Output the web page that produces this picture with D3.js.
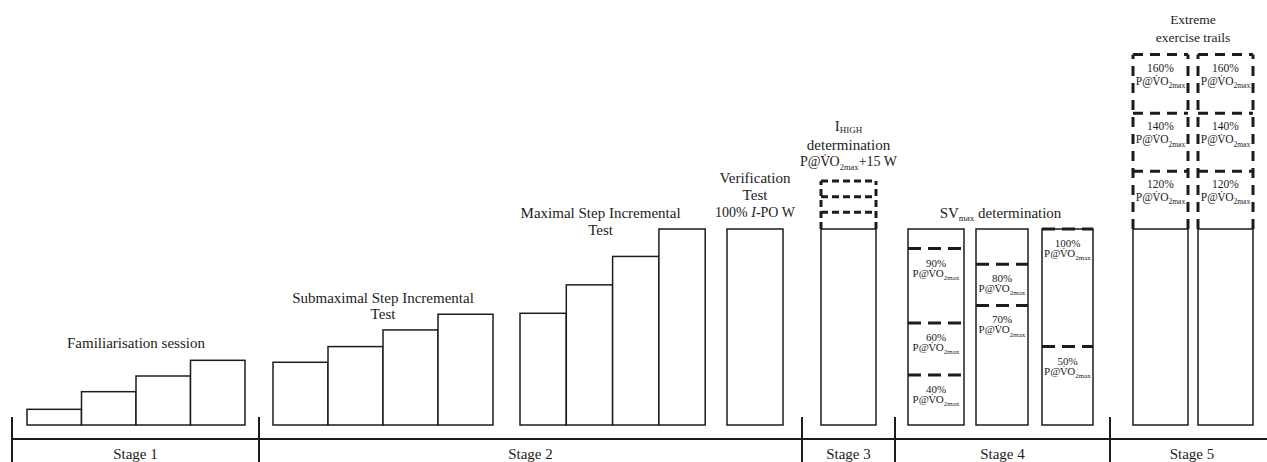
<!DOCTYPE html>
<html><head><meta charset="utf-8">
<script src="https://cdn.jsdelivr.net/npm/d3@7"></script>
<style>
html,body{margin:0;padding:0;background:#fff;}
svg{display:block;font-family:"Liberation Serif","Times New Roman",serif;}
</style></head><body>
<svg id="chart" width="1267" height="462"></svg>
<script>
// ---------- DATA (schematic intensity units: 100 = peak / verification level) ----------
const stages = ["Stage 1", "Stage 2", "Stage 3", "Stage 4", "Stage 5"];
const stageBounds = [0, 24.7, 79, 88.3, 109.8, 126.2];      // timeline units

const familiarisation = [8, 17, 25, 33];
const submaximal = [32, 40, 48.5, 56.5];
const maximal = [57, 71.5, 86, 100];
const verification = [100];
const ihighBase = [100];
const ihighSteps = [108.5, 116.5, 124.5];
const svmaxBase = [100, 100, 100];
const svmaxSteps = [[90, 52, 25.5], [82, 61], [100, 40]];
const svmaxLabels = [["90%", "60%", "40%"], ["80%", "70%"], ["100%", "50%"]];
const extremeBase = [100, 100];
const extremeSteps = [129.5, 159, 189];
const extremeLabels = ["120%", "140%", "160%"];

// ---------- LAYOUT (timeline units) ----------
const famStart = 1.5, famW = 5.45;
const subStart = 26.1, subW = 5.5;
const maxStart = 50.8, maxW = 4.63;
const verStart = 71.5, verW = 5.6;
const ihStart = 80.9, ihW = 5.5;
const svStarts = [89.6, 96.4, 103], svWs = [5.6, 5.2, 5.1];
const exStarts = [112.1, 118.6], exW = 5.5;

const W = 1267, H = 462;
const svg = d3.select("#chart");
const x = d3.scaleLinear().domain([0, 126.2]).range([12, 1274]);
const y = d3.scaleLinear().domain([0, 100]).range([425, 229]);

const INK = "#1c1c1c";
const g = svg.append("g");

function bars(values, start, w) {
  g.append("g").selectAll("rect").data(values).join("rect")
    .attr("x", (d, i) => x(start + i * w))
    .attr("y", d => y(d))
    .attr("width", x(w) - x(0))
    .attr("height", d => y(0) - y(d))
    .attr("fill", "#fff").attr("stroke", INK).attr("stroke-width", 1.5);
}
bars(familiarisation, famStart, famW);
bars(submaximal, subStart, subW);
bars(maximal, maxStart, maxW);
bars(verification, verStart, verW);
bars(ihighBase, ihStart, ihW);
svmaxBase.forEach((v, i) => bars([v], svStarts[i], svWs[i]));
extremeBase.forEach((v, i) => bars([v], exStarts[i], exW));

// dashed step boxes
function dashedStack(start, w, base, steps, dash, width) {
  const gg = g.append("g").attr("stroke", INK).attr("stroke-width", width)
    .attr("stroke-dasharray", dash).attr("fill", "none");
  const top = d3.max(steps);
  [start, start + w].forEach(xx => {
    gg.append("line").attr("x1", x(xx)).attr("x2", x(xx))
      .attr("y1", y(base)).attr("y2", y(top));
  });
  gg.selectAll("line.h").data(steps).join("line").attr("class", "h")
    .attr("x1", x(start)).attr("x2", x(start + w))
    .attr("y1", d => y(d)).attr("y2", d => y(d));
}
dashedStack(ihStart, ihW, 100, ihighSteps, "7,4", 3);
exStarts.forEach(s => dashedStack(s, exW, 100, extremeSteps, "10,7", 3));

// SVmax dashed levels
svmaxSteps.forEach((steps, i) => {
  g.append("g").selectAll("line").data(steps).join("line")
    .attr("x1", x(svStarts[i])).attr("x2", x(svStarts[i] + svWs[i]))
    .attr("y1", d => y(d)).attr("y2", d => y(d))
    .attr("stroke", INK).attr("stroke-width", 3).attr("stroke-dasharray", "13,7");
});

// ---------- TEXT helpers ----------
function pvo(sel, fs, subFs) {
  sel.append("tspan").text("P@");
  sel.append("tspan").attr("font-family", "DejaVu Serif").attr("font-size", fs * 0.88).text("V\u0307");
  sel.append("tspan").text("O");
  sel.append("tspan").attr("font-size", subFs).attr("dy", fs * 0.28).text("2max");
}
function label(xc, yb, fs) {
  return g.append("text").attr("x", xc).attr("y", yb).attr("text-anchor", "middle")
    .attr("font-size", fs).attr("fill", INK);
}

// percent labels in SVmax bars
svmaxSteps.forEach((steps, i) => {
  const xc = x(svStarts[i] + svWs[i] / 2);
  steps.forEach((s, j) => {
    label(xc, y(s) + 18, 11).text(svmaxLabels[i][j]);
    pvo(label(xc, y(s) + 28, 11), 11, 7);
  });
});
// percent labels in extreme bars (label sits at the top of each box)
exStarts.forEach(s => {
  const xc = x(s + exW / 2);
  extremeSteps.forEach((v, j) => {
    const yTop = y(v);
    label(xc, yTop + 17, 11.5).text(extremeLabels[j]);
    pvo(label(xc, yTop + 30, 11.5), 11.5, 7.5);
  });
});

// block titles
const TF = 15;
label(x(famStart + 2 * famW), y(d3.max(familiarisation)) - 12, TF).text("Familiarisation session");
label(x(subStart + 2 * subW), y(d3.max(submaximal)) - 11, TF).text("Submaximal Step Incremental");
label(x(subStart + 2 * subW), y(d3.max(submaximal)) + 5, TF).text("Test");
label(x(maxStart + 2 * maxW) - 12, y(d3.max(maximal)) - 11, TF).text("Maximal Step Incremental");
label(x(maxStart + 2 * maxW) - 12, y(d3.max(maximal)) + 6, TF).text("Test");
label(x(verStart + verW / 2), y(100) - 46, TF).text("Verification");
label(x(verStart + verW / 2), y(100) - 29, TF).text("Test");
{
  const t = label(x(verStart + verW / 2), y(100) - 12, 14);
  t.append("tspan").text("100% ");
  t.append("tspan").attr("font-style", "italic").text("I");
  t.append("tspan").text("-PO W");
}
{
  const xc = x(ihStart + ihW / 2), top = y(d3.max(ihighSteps));
  const t = label(xc, top - 50, TF);
  t.append("tspan").text("I");
  t.append("tspan").attr("font-size", 9).attr("dy", 2).text("HIGH");
  label(xc, top - 31, TF).text("determination");
  const p = label(xc, top - 15, 14);
  pvo(p, 14, 8.5);
  p.append("tspan").attr("dy", -14 * 0.28).text("+15 W");
}
{
  const xc = (x(svStarts[0]) + x(svStarts[2] + svWs[2])) / 2;
  const t = label(xc, y(100) - 11, TF);
  t.append("tspan").text("SV");
  t.append("tspan").attr("font-size", 9).attr("dy", 3).text("max");
  t.append("tspan").attr("dy", -3).text(" determination");
}
{
  const xc = (x(exStarts[0]) + x(exStarts[1] + exW)) / 2;
  const top = y(d3.max(extremeSteps));
  label(xc, top - 31, 13.5).text("Extreme");
  label(xc, top - 13, 13.5).text("exercise trails");
}

// ---------- STAGE AXIS ----------
const axisY = y(0) + 14;
g.append("line").attr("x1", x(0)).attr("x2", x(stageBounds[5]))
  .attr("y1", axisY).attr("y2", axisY).attr("stroke", INK).attr("stroke-width", 2);
g.append("g").selectAll("line").data(stageBounds.slice(0, 5)).join("line")
  .attr("x1", d => x(d)).attr("x2", d => x(d))
  .attr("y1", axisY - 22).attr("y2", H + 2)
  .attr("stroke", INK).attr("stroke-width", 2);
g.append("g").selectAll("text").data(stages).join("text")
  .attr("x", (d, i) => x((stageBounds[i] + stageBounds[i + 1]) / 2))
  .attr("y", axisY + 20).attr("text-anchor", "middle")
  .attr("font-size", TF).attr("fill", INK).text(d => d);
</script>
</body></html>
